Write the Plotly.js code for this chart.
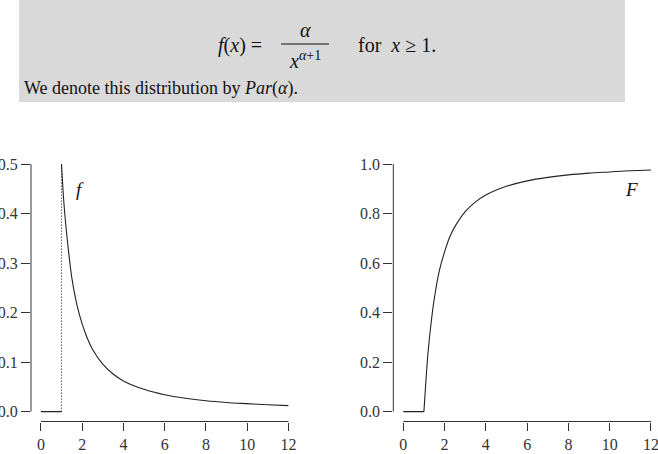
<!DOCTYPE html>
<html>
<head>
<meta charset="utf-8">
<script src="https://cdn.plot.ly/plotly-3.0.1.min.js"></script>
<style>html,body{margin:0;padding:0;background:#fff;}#chart{width:658px;height:454px;}</style>
</head>
<body>
<div id="chart"></div>
<script>
// ---- data ----
const xTicks = [0, 2, 4, 6, 8, 10, 12];
const fTicks = [0.0, 0.1, 0.2, 0.3, 0.4, 0.5];
const FTicks = [0.0, 0.2, 0.4, 0.6, 0.8, 1.0];

// density f: zero part, dotted jump, decaying part
const fZeroX = [0, 1];
const fZeroY = [0, 0];
const fJumpX = [1, 1];
const fJumpY = [0, 0.5];
const fCurveX = [1, 1.1, 1.2, 1.35, 1.5, 1.75, 2, 2.25, 2.5, 3, 3.5, 4, 5, 6, 7, 8, 9, 10, 11, 12];
const fCurveY = [0.5, 0.43, 0.38, 0.32, 0.27, 0.215, 0.177, 0.148, 0.126, 0.096, 0.076, 0.062, 0.045, 0.034, 0.027, 0.022, 0.0185, 0.016, 0.0137, 0.012];

// distribution function F
const FZeroX = [0, 1];
const FZeroY = [0, 0];
const FCurveX = [1, 1.1, 1.2, 1.35, 1.5, 1.75, 2, 2.25, 2.5, 3, 3.5, 4, 5, 6, 7, 8, 9, 10, 11, 12];
const FCurveY = [0, 0.13, 0.24, 0.36, 0.455, 0.57, 0.645, 0.705, 0.747, 0.808, 0.847, 0.875, 0.91, 0.932, 0.946, 0.956, 0.963, 0.968, 0.973, 0.976];

// ---- layout helpers ----
const W = 658, H = 454;
const px = v => v / W;
const py = v => 1 - v / H;
const serif = "Liberation Serif, DejaVu Serif, serif";
const ink = "#222";
const axisInk = "#333";

const lineStyle = {color: ink, width: 1.1};
const traces = [
  {x: fZeroX, y: fZeroY, xaxis: 'x', yaxis: 'y', mode: 'lines', line: lineStyle, hoverinfo: 'skip'},
  {x: fJumpX, y: fJumpY, xaxis: 'x', yaxis: 'y', mode: 'lines', line: {color: '#111', width: 1, dash: '1px,2px'}, hoverinfo: 'skip'},
  {x: fCurveX, y: fCurveY, xaxis: 'x', yaxis: 'y', mode: 'lines', line: Object.assign({shape: 'spline', smoothing: 0.8}, lineStyle), hoverinfo: 'skip'},
  {x: FZeroX, y: FZeroY, xaxis: 'x2', yaxis: 'y2', mode: 'lines', line: lineStyle, hoverinfo: 'skip'},
  {x: FCurveX, y: FCurveY, xaxis: 'x2', yaxis: 'y2', mode: 'lines', line: Object.assign({shape: 'spline', smoothing: 0.8}, lineStyle), hoverinfo: 'skip'}
];

const tickFont = {family: serif, size: 16, color: axisInk};
function xAx(domain, range, anchor) {
  return {domain: domain, range: range, anchor: anchor, showline: false, zeroline: false, showgrid: false,
    tickmode: 'array', tickvals: xTicks, ticktext: xTicks.map(String), ticklabeloverflow: 'allow',
    ticks: 'outside', ticklen: 8, tickwidth: 1, tickcolor: axisInk, tickfont: tickFont, automargin: false, fixedrange: true};
}
function yAx(domain, range, vals, anchor) {
  return {domain: domain, range: range, anchor: anchor, showline: false, zeroline: false, showgrid: false,
    tickmode: 'array', tickvals: vals, ticktext: vals.map(v => v.toFixed(1)), ticklabeloverflow: 'allow',
    ticks: 'outside', ticklen: 9, tickwidth: 1, tickcolor: axisInk, tickfont: tickFont, automargin: false, fixedrange: true};
}

const yDom = [py(421.5), py(154.1)];

const shapes = [
  // grey text box
  {type: 'rect', xref: 'paper', yref: 'paper', x0: px(19), x1: px(625), y0: py(102), y1: py(-2), fillcolor: '#d9d9d9', line: {width: 0}, layer: 'below'},
  // fraction bar
  {type: 'line', xref: 'paper', yref: 'paper', x0: px(281), x1: px(329), y0: py(44), y1: py(44), line: {color: '#111', width: 1}},
  // R-style axis lines spanning first..last tick
  {type: 'line', xref: 'x', yref: 'y domain', x0: xTicks[0], x1: xTicks[xTicks.length - 1], y0: 0, y1: 0, line: {color: axisInk, width: 1}},
  {type: 'line', xref: 'x domain', yref: 'y', x0: 0, x1: 0, y0: fTicks[0], y1: fTicks[fTicks.length - 1], line: {color: axisInk, width: 1}},
  {type: 'line', xref: 'x2', yref: 'y2 domain', x0: xTicks[0], x1: xTicks[xTicks.length - 1], y0: 0, y1: 0, line: {color: axisInk, width: 1}},
  {type: 'line', xref: 'x2 domain', yref: 'y2', x0: 0, x1: 0, y0: FTicks[0], y1: FTicks[FTicks.length - 1], line: {color: axisInk, width: 1}}
];

const txt = (text, x, y, xanchor, size) => ({
  text: text, xref: 'paper', yref: 'paper', x: px(x), y: py(y), xanchor: xanchor, yanchor: 'middle',
  showarrow: false, font: {family: serif, size: size, color: '#111'}
});

const annotations = [
  txt('<i>f</i>(<i>x</i>) =', 264, 45, 'right', 20),
  txt('<i>α</i>', 305, 30, 'center', 20),
  txt('<i>x</i><sup><i>α</i>+1</sup>', 305, 60, 'center', 20),
  txt('for  <i>x</i> ≥ 1.', 356, 45, 'left', 20),
  txt('We denote this distribution by <i>Par</i>(<i>α</i>).', 22, 89, 'left', 18),
  txt('<i>f</i>', 80, 190, 'center', 19),
  txt('<i>F</i>', 631, 190, 'center', 19)
];

const layout = {
  width: W, height: H, margin: {l: 0, r: 0, t: 0, b: 0},
  paper_bgcolor: '#fff', plot_bgcolor: 'rgba(0,0,0,0)', showlegend: false,
  xaxis: xAx([px(31), px(298.3)], [-0.48, 12.48], 'y'),
  yaxis: yAx(yDom, [-0.02, 0.52], fTicks, 'x'),
  xaxis2: xAx([px(393.3), 1], [-0.484, 12.34], 'y2'),
  yaxis2: yAx(yDom, [-0.04, 1.04], FTicks, 'x2'),
  shapes: shapes, annotations: annotations
};

Plotly.newPlot('chart', traces, layout, {staticPlot: true, displayModeBar: false});
</script>
</body>
</html>
